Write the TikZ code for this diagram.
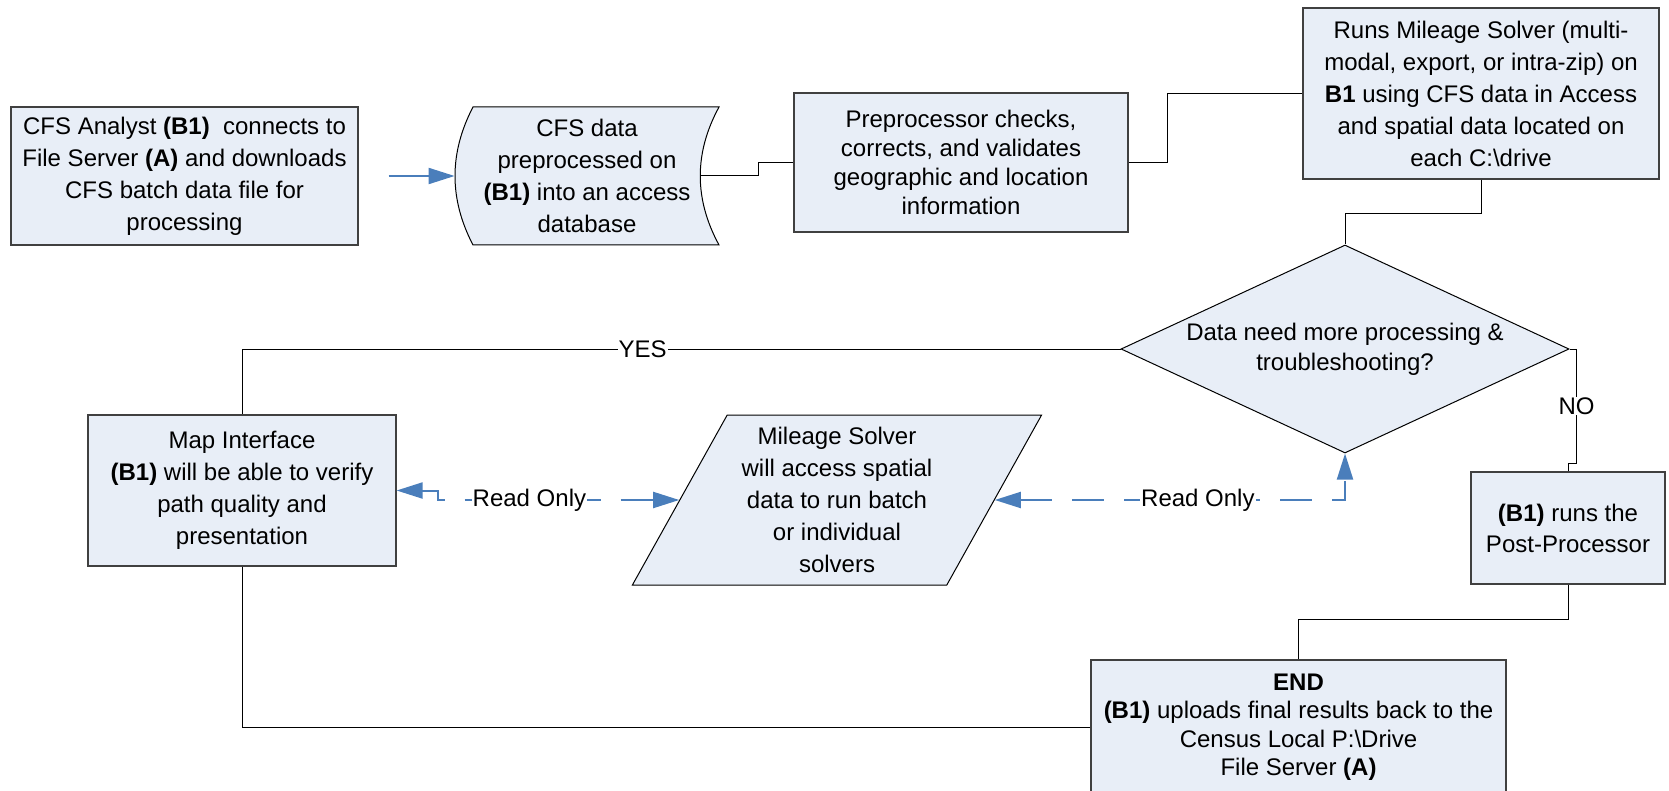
\documentclass[tikz,border=0pt]{standalone}
\usepackage{fontspec}
\setmainfont{Liberation Sans}
\usetikzlibrary{shapes.geometric,arrows.meta}

\definecolor{boxfill}{RGB}{232,238,247}
\definecolor{boxline}{RGB}{64,64,64}
\definecolor{readblue}{RGB}{74,126,187}

\tikzset{
	txt/.style={font=\fontsize{12pt}{16pt}\selectfont, align=center},
	box/.style={txt, draw=boxline, fill=boxfill, line width=0.6pt, inner sep=1pt},
	link/.style={draw=black, line width=0.5pt},
	flow/.style={draw=readblue, line width=1pt},
	tip/.style={-{Triangle[length=13pt,width=8pt]}},
	readonly/.style={flow, dash pattern=on 16pt off 10pt, {Triangle[length=13pt,width=8pt]}-{Triangle[length=13pt,width=8pt]}},
	lbl/.style={txt, fill=white, inner sep=0.5pt}
}

\begin{document}
\begin{tikzpicture}[x=0.5pt,y=-0.5pt]
	\useasboundingbox (0,0) rectangle (1669,791);

	% top row
	\node[box, minimum width=173.5pt, minimum height=69pt] (analyst) at (184.5,176) {CFS Analyst \textbf{(B1)}~ connects to\\File Server \textbf{(A)} and downloads\\CFS batch data file for\\processing};
	\filldraw[fill=boxfill, draw=black, line width=0.5pt] (473,107) -- (719,107) .. controls (694,153) and (694,199) .. (719,245) -- (473,245) .. controls (449,199) and (449,153) .. (473,107) -- cycle;
	\node[txt, minimum width=132pt, minimum height=69pt] (stored) at (587,176) {CFS data\\preprocessed on\\\textbf{(B1)} into an access\\database};
	\node[box, minimum width=167pt, minimum height=69.5pt, font=\fontsize{12pt}{14.5pt}\selectfont] (prep) at (961,162.5) {Preprocessor checks,\\corrects, and validates\\geographic and location\\information};
	\node[box, minimum width=178pt, minimum height=85.5pt] (solver) at (1481,93.5) {Runs Mileage Solver (multi-\\modal, export, or intra-zip) on\\\textbf{B1} using CFS data in Access\\and spatial data located on\\each C:\textbackslash drive};

	% decision
	\node[txt, diamond, shape aspect=2.15, draw=black, fill=boxfill, line width=0.5pt, inner sep=0pt, minimum width=224pt, minimum height=104pt, font=\fontsize{12pt}{15pt}\selectfont] (decide) at (1345,349) {Data need more processing \&\\troubleshooting?};

	% lower row
	\node[box, minimum width=154pt, minimum height=75.5pt] (map) at (242,490.5) {Map Interface\\\textbf{(B1)} will be able to verify\\path quality and\\presentation};
	\node[txt, trapezium, trapezium left angle=61, trapezium right angle=119, trapezium stretches=true, draw=black, fill=boxfill, line width=0.5pt, minimum width=205pt, minimum height=85pt] (para) at (837,500) {Mileage Solver\\will access spatial\\data to run batch\\or individual\\solvers};
	\node[box, minimum width=97pt, minimum height=56pt, font=\fontsize{12pt}{15.5pt}\selectfont] (post) at (1568,528) {\textbf{(B1)} runs the\\Post-Processor};
	\node[box, minimum width=207.5pt, minimum height=67pt, font=\fontsize{12pt}{14.25pt}\selectfont] (finish) at (1298.5,727) {\textbf{END}\\\textbf{(B1)} uploads final results back to the\\Census Local P:\textbackslash Drive\\File Server \textbf{(A)}};

	% connectors
	\draw[flow, tip] ([xshift=15pt]analyst.east) -- (stored.west);
	\draw[link] ([xshift=-9.5pt]stored.east) -- ++(58,0) |- (prep.west);
	\draw[link] (prep.east) -- ++(39,0) |- (solver.west);
	\draw[link] (solver.south) -- ++(0,34) -| (decide.north);
	\draw[link] (decide.west) -| (map.north) node[lbl, pos=0.272] {YES};
	\draw[link] (decide.east) -- ++(7,0) -- ++(0,114) node[lbl, midway] {NO} -| (post.north);
	\draw[link] (post.south) -- ++(0,35) -| (finish.north);
	\draw[link] (map.south) |- (finish.west);
	\draw[readonly] (map.east) -- ++(41,0) |- (para.west) node[lbl, pos=0.69] {Read Only};
	\draw[readonly] (para.east) -| (decide.south) node[lbl, pos=0.29] {Read Only};
\end{tikzpicture}
\end{document}
